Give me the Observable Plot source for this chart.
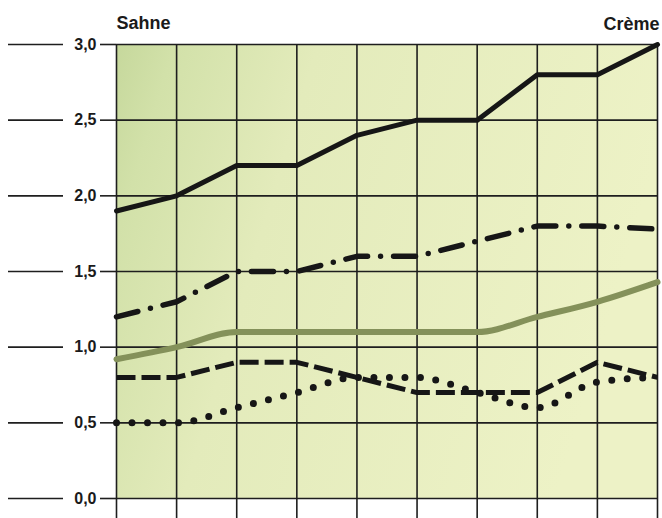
<!DOCTYPE html>
<html>
<head>
<meta charset="utf-8">
<script src="https://cdn.jsdelivr.net/npm/d3@7"></script>
<script src="https://cdn.jsdelivr.net/npm/@observablehq/plot@0.6"></script>
<style>
  html, body { margin: 0; padding: 0; background: #ffffff; }
  #chart svg { display: block; overflow: visible; }
</style>
</head>
<body>
<div id="chart"></div>
<script>
// ---- data ----
const steps   = [0, 1, 2, 3, 4, 5, 6, 7, 8, 9];
const solid   = [1.9, 2.0, 2.2, 2.2, 2.4, 2.5, 2.5, 2.8, 2.8, 3.0];
const dashDot = [1.2, 1.3, 1.5, 1.5, 1.6, 1.6, 1.7, 1.8, 1.8, 1.78];
const olive   = [0.92, 1.0, 1.1, 1.1, 1.1, 1.1, 1.1, 1.2, 1.3, 1.43];
const dashed  = [0.8, 0.8, 0.9, 0.9, 0.8, 0.7, 0.7, 0.7, 0.9, 0.8];
const dotted  = [0.5, 0.5, 0.6, 0.7, 0.8, 0.8, 0.7, 0.6, 0.77, 0.8];
const yTicks  = [0, 0.5, 1.0, 1.5, 2.0, 2.5, 3.0];
const leftTitle = "Sahne";
const rightTitle = "Crème";

const rows = (vals) => steps.map((s, i) => ({x: s, y: vals[i]}));
const fmt = d => d.toFixed(1).replace(".", ",");
const font = "'Liberation Sans', Arial, sans-serif";

const svg = Plot.plot({
  width: 662,
  height: 518,
  marginLeft: 116,
  marginRight: 5,
  marginTop: 44,
  marginBottom: 20,
  style: {background: "transparent", fontFamily: font, color: "#1a1a1a"},
  x: {domain: [0, 9], axis: null, label: null},
  y: {domain: [0, 3], axis: null, label: null},
  marks: [
    Plot.frame({fill: "url(#bgGrad)", stroke: "none"}),
    // horizontal grid
    Plot.ruleY(yTicks, {stroke: "#1e1e1e", strokeWidth: 1.6}),
    // vertical grid (runs past the zero line)
    Plot.ruleX(steps, {stroke: "#1e1e1e", strokeWidth: 1.6, insetBottom: -20}),
    // long outer tick lines
    Plot.axisY(yTicks, {anchor: "left", label: null, tickSize: 55, dx: -53, tickFormat: () => "", stroke: "#1e1e1e", strokeWidth: 1.6}),
    // short ticks + labels
    Plot.axisY(yTicks, {anchor: "left", label: null, tickSize: 16, tickPadding: 4, tickFormat: fmt,
      fontSize: 16, fontWeight: "bold", stroke: "#1e1e1e", strokeWidth: 1.6, fill: "#1a1a1a"}),
    // series
    Plot.line(rows(olive), {x: "x", y: "y", stroke: "#84915a", strokeWidth: 6, curve: "monotone-x"}),
    Plot.line(rows(dotted), {x: "x", y: "y", stroke: "#161616", strokeWidth: 7, strokeDasharray: "0,15.5", strokeLinecap: "round", curve: "monotone-x"}),
    Plot.line(rows(dashed), {x: "x", y: "y", stroke: "#161616", strokeWidth: 5, strokeDasharray: "19,6", strokeLinecap: "butt", curve: "linear"}),
    Plot.line(rows(dashDot), {x: "x", y: "y", stroke: "#161616", strokeWidth: 5.5, strokeDasharray: "22,13,0,13", strokeLinecap: "round", curve: "linear"}),
    Plot.line(rows(solid), {x: "x", y: "y", stroke: "#161616", strokeWidth: 5, strokeLinejoin: "round", curve: "linear"}),
    // titles
    Plot.text([leftTitle], {frameAnchor: "top-left", text: d => d, textAnchor: "start", lineAnchor: "bottom",
      dy: -16, fontSize: 18, fontWeight: "bold", fill: "#1a1a1a"}),
    Plot.text([rightTitle], {frameAnchor: "top-right", text: d => d, textAnchor: "end", lineAnchor: "bottom",
      dx: 2, dy: -15, fontSize: 18, fontWeight: "bold", fill: "#1a1a1a", style: "letter-spacing:0.6px"})
  ]
});

d3.select(svg).insert("defs", ":first-child").html(`
  <linearGradient id="bgGrad" x1="0" y1="0" x2="1" y2="0.25">
    <stop offset="0" stop-color="#c6d89c"/>
    <stop offset="0.1" stop-color="#d2e1a9"/>
    <stop offset="0.35" stop-color="#e3ebbb"/>
    <stop offset="1" stop-color="#edf2c6"/>
  </linearGradient>`);

document.getElementById("chart").appendChild(svg);
</script>
</body>
</html>
